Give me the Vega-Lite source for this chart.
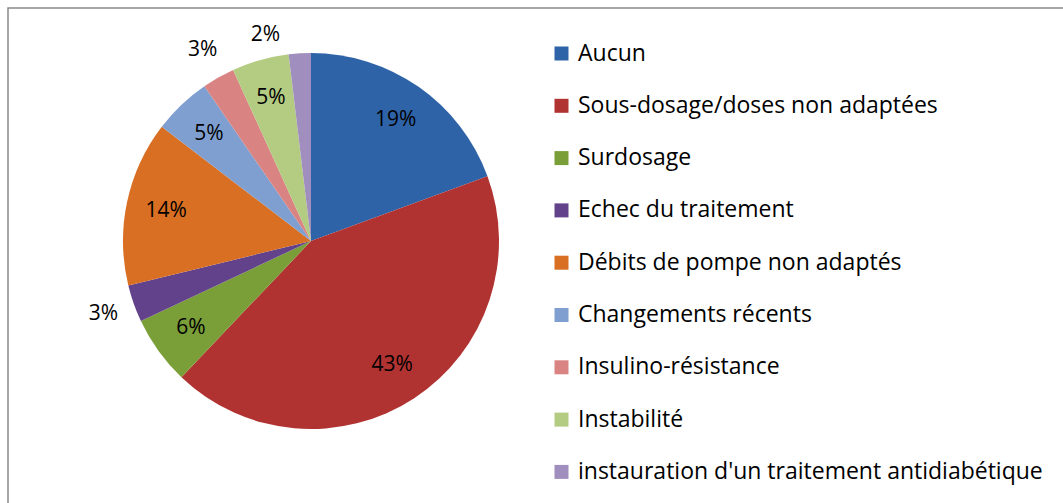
{
  "$schema": "https://vega.github.io/schema/vega-lite/v6.json",
  "autosize": "none",
  "width": 1060,
  "height": 500,
  "padding": {"left": 8, "top": 8, "right": 0, "bottom": 0},
  "background": "white",
  "view": {"stroke": "#8a8a8a", "strokeWidth": 1.5},
  "config": {
    "view": {"stroke": "#8a8a8a", "strokeWidth": 1.5},
    "font": "Open Sans",
    "text": {"font": "Open Sans"}
  },
  "data": {
    "values": [
      {"ordre": 1, "cause": "Aucun", "valeur": 19.4, "etiquette": "19%"},
      {"ordre": 2, "cause": "Sous-dosage/doses non adaptées", "valeur": 42.7, "etiquette": "43%"},
      {"ordre": 3, "cause": "Surdosage", "valeur": 5.9, "etiquette": "6%"},
      {"ordre": 4, "cause": "Echec du traitement", "valeur": 3.2, "etiquette": "3%"},
      {"ordre": 5, "cause": "Débits de pompe non adaptés", "valeur": 14.2, "etiquette": "14%"},
      {"ordre": 6, "cause": "Changements récents", "valeur": 5.0, "etiquette": "5%"},
      {"ordre": 7, "cause": "Insulino-résistance", "valeur": 2.8, "etiquette": "3%"},
      {"ordre": 8, "cause": "Instabilité", "valeur": 4.9, "etiquette": "5%"},
      {"ordre": 9, "cause": "instauration d'un traitement antidiabétique", "valeur": 1.9, "etiquette": "2%"}
    ]
  },
  "encoding": {
    "theta": {"field": "valeur", "type": "quantitative", "stack": true},
    "order": {"field": "ordre", "type": "quantitative"}
  },
  "layer": [
    {
      "mark": {"type": "arc", "x": 303, "y": 233, "outerRadius": 188, "stroke": null},
      "encoding": {
        "color": {
          "field": "cause",
          "type": "nominal",
          "sort": ["Aucun", "Sous-dosage/doses non adaptées", "Surdosage", "Echec du traitement", "Débits de pompe non adaptés", "Changements récents", "Insulino-résistance", "Instabilité", "instauration d'un traitement antidiabétique"],
          "scale": {
            "domain": ["Aucun", "Sous-dosage/doses non adaptées", "Surdosage", "Echec du traitement", "Débits de pompe non adaptés", "Changements récents", "Insulino-résistance", "Instabilité", "instauration d'un traitement antidiabétique"],
            "range": ["#2f63a8", "#b03331", "#7a9e38", "#62428a", "#d96f22", "#7f9fd0", "#d98482", "#b4cc82", "#a08fbe"]
          },
          "legend": {
            "title": null,
            "orient": "none",
            "legendX": 542,
            "legendY": 34,
            "padding": 0,
            "symbolType": "square",
            "symbolSize": 196,
            "symbolStrokeWidth": 0,
            "labelFontSize": 23,
            "labelFont": "Open Sans",
            "labelColor": "#000000",
            "labelOffset": 5,
            "labelLimit": 0,
            "rowPadding": 28.3
          }
        }
      }
    },
    {
      "mark": {"type": "text", "x": 303, "y": 233, "radius": 148, "fontSize": 21, "color": "#000000"},
      "encoding": {
        "text": {"condition": {"test": "datum.valeur < 4", "value": ""}, "field": "etiquette", "type": "nominal"}
      }
    },
    {
      "mark": {"type": "text", "x": 303, "y": 233, "radius": 220, "fontSize": 21, "color": "#000000"},
      "encoding": {
        "text": {"condition": {"test": "datum.valeur >= 4 || datum.valeur < 2.5", "value": ""}, "field": "etiquette", "type": "nominal"}
      }
    },
    {
      "mark": {"type": "text", "x": 303, "y": 233, "radius": 212, "dx": -33, "dy": 6, "fontSize": 21, "color": "#000000"},
      "encoding": {
        "text": {"condition": {"test": "datum.valeur >= 2.5", "value": ""}, "field": "etiquette", "type": "nominal"}
      }
    }
  ]
}
